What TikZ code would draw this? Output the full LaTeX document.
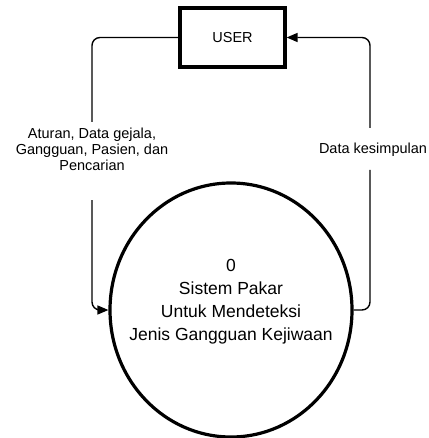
\documentclass[tikz,border=0pt]{standalone}
\usepackage{fontspec}
\setmainfont{Liberation Sans}
\usepackage{tikz}
\usetikzlibrary{arrows.meta,shapes.geometric}

\tikzset{
  flow/.style={line width=1.4pt, rounded corners=8pt},
  flowarr/.style={flow, -{Triangle[length=11pt,width=9pt]}},
  lbl/.style={align=center, inner sep=0.75pt, font=\fontsize{14.5}{16}\selectfont},
}

\begin{document}
\begin{tikzpicture}[x=1pt,y=1pt,yscale=-1,xscale=1]
    \useasboundingbox (0,0) rectangle (428,438);

    % Entity
    \node [draw, line width=3.2pt, minimum width=105pt, minimum height=59pt, inner sep=0pt,
           font=\fontsize{14.5}{16}\selectfont] (user) at (232.5,37.5) {USER};
    % Process
    \node [draw, ellipse, line width=3.2pt, minimum width=242pt, minimum height=254pt, inner sep=0pt]
          (proc) at (231,310) {};
    \node [align=center, inner sep=0pt, font=\fontsize{17.5}{23}\selectfont] (proctxt) at (231,302)
          {0\\Sistem Pakar\\Untuk Mendeteksi\\Jenis Gangguan Kejiwaan};

    % Text Node
    \node [lbl] (lblin) at (92,149) {Aturan, Data gejala,\\Gangguan, Pasien, dan\\Pencarian};
    % Text Node
    \node [lbl] (lblout) at (373,150) {Data kesimpulan};

    \coordinate (inA) at (92,122);
    \coordinate (inB) at (92,200);
    \coordinate (outA) at (370,170);
    \coordinate (outB) at (370,128);

    %Straight Lines
    \draw [flow] (user.west) -| (inA);
    \draw [flowarr] (inB) |- (proc.west);
    %Straight Lines
    \draw [flow] (proc.east) -| (outA);
    \draw [flowarr] (outB) |- (user.east);
\end{tikzpicture}
\end{document}
